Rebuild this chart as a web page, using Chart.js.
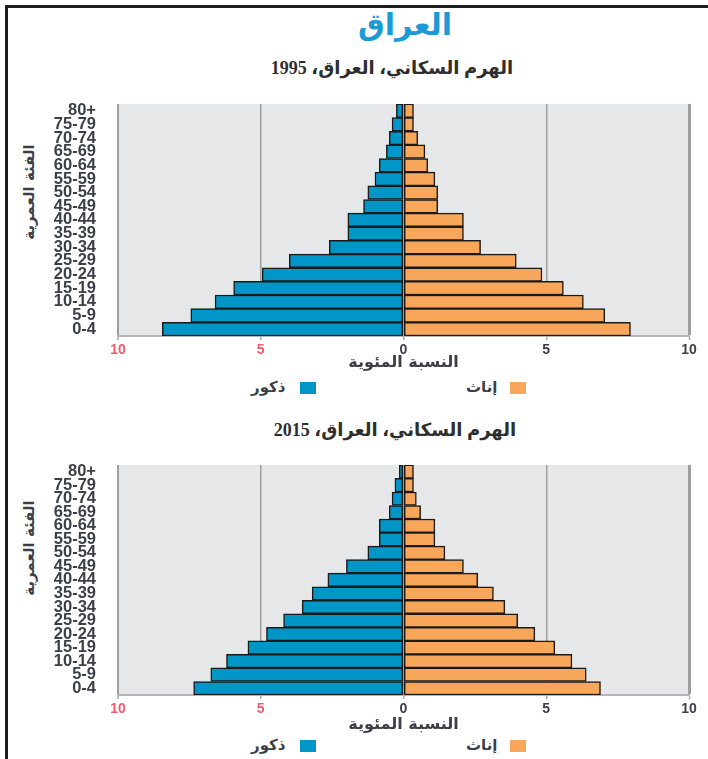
<!DOCTYPE html>
<html lang="ar">
<head>
<meta charset="utf-8">
<title>العراق</title>
<script src="https://cdn.jsdelivr.net/npm/chart.js@4.4.1/dist/chart.umd.min.js"></script>
<style>
  html, body { margin: 0; padding: 0; background: #fff; }
  body { width: 708px; height: 759px; position: relative; overflow: hidden; font-family: 'DejaVu Sans', sans-serif; }
  .frame { position: absolute; left: 5px; top: 5px; width: 740px; height: 800px;
           border-left: 3px solid #1e1e1e; border-top: 3px solid #1e1e1e; }
  .t { position: absolute; white-space: nowrap; transform: translate(-50%, -50%); }
  .main { font-size: 30px; font-weight: bold; color: #1d9ad6; }
  .sub { font-family: 'Liberation Serif', 'DejaVu Sans', serif; font-size: 18px; font-weight: bold; color: #2e2e2e; }
  .ytitle { font-size: 15px; font-weight: bold; color: #3b3f48; transform: translate(-50%, -50%) rotate(-90deg); }
  .leg { position: absolute; font-size: 15px; font-weight: bold; color: #3b3f48; white-space: nowrap; transform: translateY(-50%); }
  .sw { position: absolute; width: 16px; height: 12px; transform: translateY(-50%); }
  canvas { position: absolute; left: 8px; }
</style>
</head>
<body>
<div class="frame"></div>

<div class="t main" dir="rtl" style="left:405px; top:24px;">العراق</div>

<div class="t sub" dir="rtl" style="left:392px; top:68px;">الهرم السكاني، العراق، 1995</div>
<div class="t ytitle" dir="rtl" style="left:29px; top:192px;">الفئة العمرية</div>
<canvas id="pyr1995" width="700" height="292" style="top:80px; width:700px; height:292px;"></canvas>
<div class="sw" style="left:300px; top:388px; background:#0096c8;"></div>
<div class="leg" dir="rtl" style="left:251px; top:387px;">ذكور</div>
<div class="sw" style="left:510px; top:388px; background:#f8a65a;"></div>
<div class="leg" dir="rtl" style="left:466px; top:387px;">إناث</div>

<div class="t sub" dir="rtl" style="left:395px; top:430px;">الهرم السكاني، العراق، 2015</div>
<div class="t ytitle" dir="rtl" style="left:29px; top:548px;">الفئة العمرية</div>
<canvas id="pyr2015" width="700" height="293" style="top:441px; width:700px; height:293px;"></canvas>
<div class="sw" style="left:300px; top:746px; background:#0096c8;"></div>
<div class="leg" dir="rtl" style="left:251px; top:745px;">ذكور</div>
<div class="sw" style="left:510px; top:746px; background:#f8a65a;"></div>
<div class="leg" dir="rtl" style="left:466px; top:745px;">إناث</div>

<script>
// Age groups, youngest first (the axis is reversed so 0-4 sits at the bottom)
const ageGroups = ['0-4', '5-9', '10-14', '15-19', '20-24', '25-29', '30-34', '35-39',
                   '40-44', '45-49', '50-54', '55-59', '60-64', '65-69', '70-74', '75-79', '80+'];

// Percent of population by age group
const males1995   = [8.45, 7.45, 6.6, 5.95, 4.95, 4.0, 2.6, 1.95, 1.95, 1.4, 1.25, 1.0, 0.85, 0.6, 0.5, 0.4, 0.25];
const females1995 = [7.95, 7.05, 6.3, 5.6, 4.85, 3.95, 2.7, 2.1, 2.1, 1.2, 1.2, 1.1, 0.85, 0.75, 0.5, 0.35, 0.35];
const males2015   = [7.35, 6.75, 6.2, 5.45, 4.8, 4.2, 3.55, 3.2, 2.65, 2.0, 1.25, 0.85, 0.85, 0.5, 0.4, 0.3, 0.15];
const females2015 = [6.9, 6.4, 5.9, 5.3, 4.6, 4.0, 3.55, 3.15, 2.6, 2.1, 1.45, 1.1, 1.1, 0.6, 0.45, 0.35, 0.35];

const xTicks = [-10, -5, 0, 5, 10];
const maleLabel = 'ذكور';
const femaleLabel = 'إناث';
const xTitle = 'النسبة المئوية';

const BLUE = '#0096c8';
const ORANGE = '#f8a65a';
const TEXT = '#3b3f48';
const RED = '#f25a6e';

const plotBackground = {
  id: 'plotBackground',
  beforeDraw(chart) {
    const { ctx, chartArea: a } = chart;
    ctx.save();
    ctx.fillStyle = '#e6e7e9';
    ctx.fillRect(a.left, a.top, a.right - a.left, a.bottom - a.top);
    ctx.restore();
  }
};

function pyramid(id, males, females, xAxisHeight) {
  return new Chart(document.getElementById(id), {
    type: 'bar',
    data: {
      labels: ageGroups,
      datasets: [
        { label: maleLabel, data: males.map(v => -v), backgroundColor: BLUE },
        { label: femaleLabel, data: females, backgroundColor: ORANGE }
      ]
    },
    options: {
      indexAxis: 'y',
      responsive: false,
      devicePixelRatio: 1,
      animation: false,
      layout: { padding: { top: 5, right: 19, left: 0, bottom: 0 } },
      datasets: {
        bar: {
          barPercentage: 1,
          categoryPercentage: 1,
          borderWidth: 1.5,
          borderColor: '#1a1a1a',
          borderSkipped: false
        }
      },
      plugins: {
        legend: { display: false },
        title: { display: false },
        tooltip: { enabled: false }
      },
      scales: {
        x: {
          type: 'linear',
          stacked: true,
          min: -10,
          max: 10,
          afterBuildTicks(scale) { scale.ticks = xTicks.map(v => ({ value: v })); },
          afterFit(scale) { scale.height = xAxisHeight; },
          ticks: {
            padding: 2,
            color: ctx => (ctx.tick && ctx.tick.value < 0 ? RED : TEXT),
            font: { family: 'Liberation Sans', weight: 'bold', size: 14 },
            callback: v => Math.abs(v)
          },
          grid: {
            color: '#9e9e9e',
            lineWidth: ctx => (ctx.tick && ctx.tick.value === 10 ? 3 : ctx.tick && ctx.tick.value === -10 ? 2 : 1.5),
            tickLength: 4,
            tickColor: '#aaaaaa',
            tickWidth: 1.5
          },
          border: { display: true, color: '#b4b4b4', width: 2 },
          title: {
            display: true,
            text: xTitle,
            color: TEXT,
            padding: 0,
            font: { family: 'DejaVu Sans', weight: 'bold', size: 16 }
          }
        },
        y: {
          type: 'category',
          stacked: true,
          reverse: true,
          afterFit(scale) { scale.width = 110; },
          grid: { display: false },
          border: { display: false },
          ticks: {
            padding: 14,
            color: TEXT,
            autoSkip: false,
            font: { family: 'Liberation Sans', weight: 'bold', size: 16.5 }
          }
        }
      }
    },
    plugins: [plotBackground]
  });
}

pyramid('pyr1995', males1995, females1995, 36);
pyramid('pyr2015', males2015, females2015, 39);
</script>
</body>
</html>
